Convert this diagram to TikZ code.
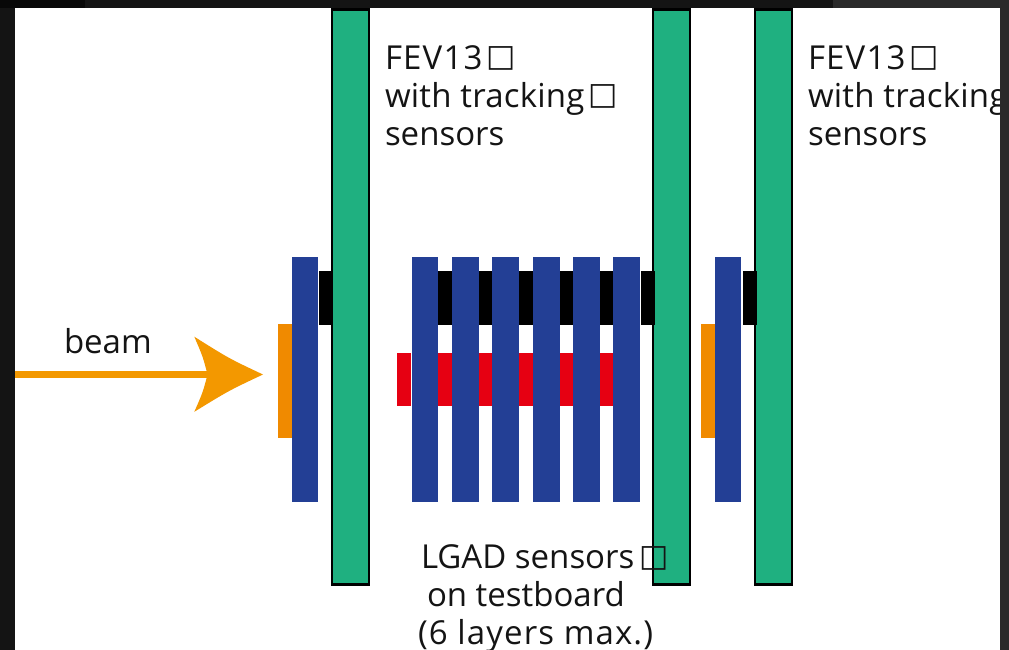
\documentclass[tikz,border=0pt]{standalone}
\usepackage{fontspec}
\setmainfont{Open Sans}
\newfontfamily\symfont{DejaVu Sans}
\newcommand{\sq}[1][3.5pt]{\hspace{#1}\raisebox{2.5pt}{\symfont\fontsize{31}{38}\selectfont □}}
\newcommand{\ls}[2]{{\addfontfeature{LetterSpace=#1}#2}}
\definecolor{fevgreen}{HTML}{1FB080}
\definecolor{lgadblue}{HTML}{233F95}
\definecolor{boardred}{HTML}{E60012}
\definecolor{orangepad}{HTML}{F08A00}
\definecolor{beamorange}{HTML}{F39800}
\definecolor{panelbg}{HTML}{141414}
\definecolor{panelblk}{HTML}{080808}
\definecolor{panelbgr}{HTML}{2A2A2A}
\tikzset{
  box/.style={inner sep=0pt,outer sep=0pt,draw=none},
  fev/.style={box,fill=fevgreen,draw=black,line width=2.5pt},
  lgad/.style={box,fill=lgadblue},
  blk/.style={box,fill=black},
  red/.style={box,fill=boardred},
  pad/.style={box,fill=orangepad},
  lbl/.style={inner sep=0pt,outer sep=0pt,anchor=north west,align=left,text=black!92,
    font=\fontsize{33}{38}\selectfont},
  beamshaft/.style={draw=beamorange,line width=7.5pt},
  beamhead/.style={fill=beamorange,draw=none}
}
% name, style, x1, x2, y1, y2 (pixels)
\newcommand{\bx}[6]{\node[#2,minimum width={(#4-#3)*1pt},minimum height={(#6-#5)*1pt}] (#1) at ({(#3+#4)/2},{(#5+#6)/2}) {};}
\begin{document}
\begin{tikzpicture}[x=1pt,y=-1pt]
\useasboundingbox (0,0) rectangle (1009,650);
\fill[panelbg] (0,0) rectangle (1009,650);
\fill[panelblk] (0,0) rectangle (85,8);
\fill[panelbgr] (833,0) rectangle (1009,8);
\fill[panelbgr] (1000,0) rectangle (1009,650);
\fill[white] (15,8) rectangle (1000,650);
% black spacers
\bx{b1}{blk}{319}{333}{271}{325}
\bx{b2}{blk}{438}{452}{271}{325}
\bx{b3}{blk}{478}{492}{271}{325}
\bx{b4}{blk}{519}{533}{271}{325}
\bx{b5}{blk}{560}{574}{271}{325}
\bx{b6}{blk}{599}{613}{271}{325}
% red
\bx{r1}{red}{397}{411}{353}{406}
\bx{r2}{red}{438}{452}{353}{406}
\bx{r3}{red}{478}{492}{353}{406}
\bx{r4}{red}{519}{533}{353}{406}
\bx{r5}{red}{560}{574}{353}{406}
\bx{r6}{red}{599}{613}{353}{406}
% orange
\bx{o1}{pad}{278}{292}{324}{438}
\bx{o2}{pad}{701}{715}{324}{438}
% blue
\bx{l0}{lgad}{292}{318}{257}{502}
\bx{l1}{lgad}{412}{438}{257}{502}
\bx{l2}{lgad}{452}{479}{257}{502}
\bx{l3}{lgad}{492}{519}{257}{502}
\bx{l4}{lgad}{533}{560}{257}{502}
\bx{l5}{lgad}{573}{600}{257}{502}
\bx{l6}{lgad}{613}{640}{257}{502}
\bx{l7}{lgad}{715}{741}{257}{502}
% green
\bx{f1}{fev}{332}{369}{9.5}{584.5}
\bx{f2}{fev}{653}{690}{9.5}{584.5}
\bx{f3}{fev}{755}{792}{9.5}{584.5}
% black spacers overlapping the green boards
\bx{b0}{blk}{319}{333}{271}{325}
\bx{b7}{blk}{641}{655}{271}{325}
\bx{b8}{blk}{743}{757}{271}{325}
% beam
\coordinate (bs) at (15,374.5);
\coordinate (bt) at (263,374.5);
\coordinate (bn) at (207.5,374.5);
\coordinate (bu) at (194.3,336.7);
\coordinate (bd) at (194.3,411.8);
\draw[beamshaft] (bs) -- (bn);
\fill[beamhead] (bt) .. controls (229,358.5) .. (bu) .. controls (203,357) .. (bn)
  .. controls (203,392) .. (bd) .. controls (229,390.5) .. (bt) -- cycle;
% labels
\node[lbl] (t1) at (385,45.5) {\ls{3.6}{FEV13}\sq\\\ls{.7}{with tracking}\sq\\sensors};
\node[lbl] (t2) at (808,45.5) {\ls{3.6}{FEV13}\sq\\\ls{.7}{with tracking}\\sensors};
\node[lbl] (t3) at (64,328) {beam};
\node[lbl] (t4) at (421,545) {LGAD sensors\sq[5pt]\\\hspace{6pt}on testboard\\\hspace{-3pt}\ls{3.4}{(6 layers max.)}};
% right margin hides the clipped text
\fill[panelbgr] (1000,8) rectangle (1009,650);
\end{tikzpicture}
\end{document}
